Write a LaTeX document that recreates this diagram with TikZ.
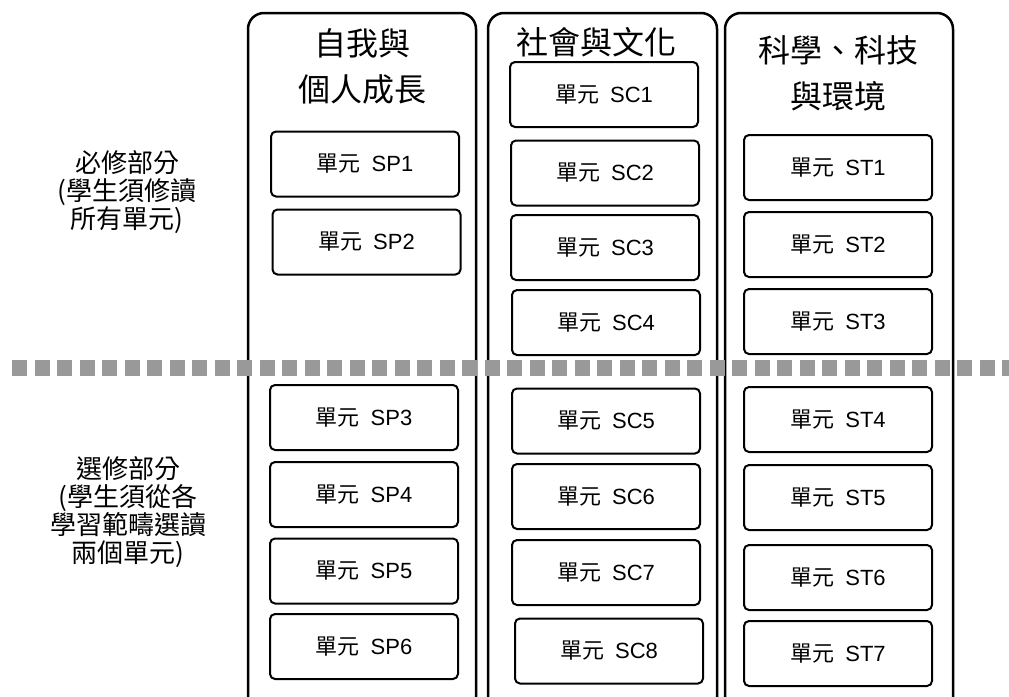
\documentclass[tikz,border=0pt]{standalone}
\usepackage{fontspec}
\setmainfont{Liberation Sans}
\newfontfamily\cjk{Noto Sans CJK TC}
\newcommand{\unitlabel}[1]{{\cjk 單元}\hspace{11pt}#1}

\begin{document}
\begin{tikzpicture}[x=1pt,y=-1pt,line cap=round,line join=round,
	unitbox/.style={draw,line width=2pt,rounded corners=5pt,minimum width=188pt,minimum height=65pt,inner sep=0pt,font=\fontsize{22}{24}\selectfont},
	colbox/.style={draw,line width=2.5pt,rounded corners=16pt},
	coltitle/.style={align=center,inner sep=0pt,font=\cjk\fontsize{32}{46}\selectfont},
	sidelabel/.style={align=center,inner sep=0pt,font=\cjk\fontsize{26}{28}\selectfont},
	separator/.style={line width=16pt,color=black!40,line cap=butt,dash pattern=on 15pt off 7.5pt}]
				\clip (0,0) rectangle (1009,696);
				% columns
				\draw [colbox] (248,13) rectangle (476,730);
				\draw [colbox] (488,13) rectangle (717,730);
				\draw [colbox] (725,13) rectangle (953,730);
				\node [coltitle] (titleSP) at (362,66) {自我與\\個人成長};
				\node [coltitle] (titleSC) at (596,42) {社會與文化};
				\node [coltitle] (titleST) at (838,73) {科學、科技\\與環境};
				% side labels
				\node [sidelabel] (compulsory) at (127,192) {必修部分\\(學生須修讀\\所有單元)};
				\node [sidelabel] (elective) at (128,512) {選修部分\\(學生須從各\\學習範疇選讀\\兩個單元)};
				% units
				\node [unitbox] (sp1) at (365,164) {\unitlabel{SP1}};
				\node [unitbox] (sp2) at (366.5,242) {\unitlabel{SP2}};
				\node [unitbox] (sp3) at (364,417.5) {\unitlabel{SP3}};
				\node [unitbox] (sp4) at (364,494.5) {\unitlabel{SP4}};
				\node [unitbox] (sp5) at (364,571) {\unitlabel{SP5}};
				\node [unitbox] (sp6) at (364,646.5) {\unitlabel{SP6}};
				\node [unitbox] (sc1) at (604,94.5) {\unitlabel{SC1}};
				\node [unitbox] (sc2) at (605,173) {\unitlabel{SC2}};
				\node [unitbox] (sc3) at (605,247.5) {\unitlabel{SC3}};
				\node [unitbox] (sc4) at (606,322.5) {\unitlabel{SC4}};
				\node [unitbox] (sc5) at (606,421) {\unitlabel{SC5}};
				\node [unitbox] (sc6) at (606,496.5) {\unitlabel{SC6}};
				\node [unitbox] (sc7) at (606,572.5) {\unitlabel{SC7}};
				\node [unitbox] (sc8) at (609,651) {\unitlabel{SC8}};
				\node [unitbox] (st1) at (838,167.5) {\unitlabel{ST1}};
				\node [unitbox] (st2) at (838,244.5) {\unitlabel{ST2}};
				\node [unitbox] (st3) at (838,321.5) {\unitlabel{ST3}};
				\node [unitbox] (st4) at (838,419.5) {\unitlabel{ST4}};
				\node [unitbox] (st5) at (838,497.5) {\unitlabel{ST5}};
				\node [unitbox] (st6) at (838,577.5) {\unitlabel{ST6}};
				\node [unitbox] (st7) at (838,653.5) {\unitlabel{ST7}};
				% separator between compulsory and elective parts
				\coordinate (sepL) at (12,368);
				\coordinate (sepR) at (1012,368);
				\draw [separator] (sepL) -- (sepR);
\end{tikzpicture}
\end{document}
